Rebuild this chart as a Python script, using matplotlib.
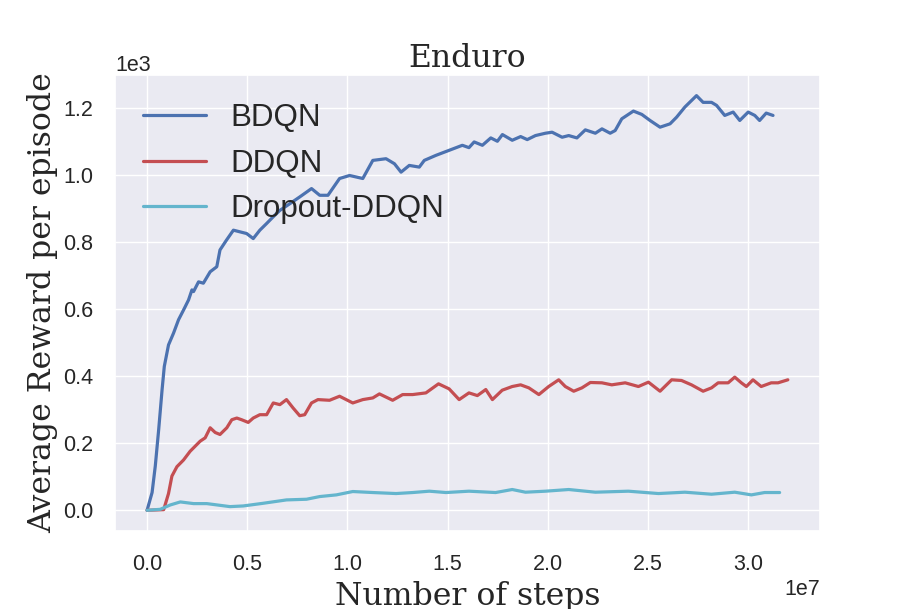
import matplotlib
matplotlib.use("Agg")
import matplotlib.pyplot as plt
import seaborn as sns
import numpy as np

# readings: x in units of 1e7 steps, y in units of 1e3 reward
bdqn_x = [0.0, 0.025, 0.041, 0.058, 0.075, 0.086, 0.107, 0.132, 0.157, 0.182, 0.207, 0.224, 0.232,
          0.257, 0.281, 0.315, 0.348, 0.364, 0.396, 0.431, 0.464, 0.497, 0.530, 0.563, 0.597, 0.630,
          0.663, 0.713, 0.762, 0.821, 0.862, 0.903, 0.961, 1.011, 1.077, 1.127, 1.193, 1.235, 1.268,
          1.309, 1.359, 1.384, 1.442, 1.508, 1.574, 1.607, 1.633, 1.674, 1.716, 1.749, 1.774, 1.823,
          1.865, 1.898, 1.939, 1.989, 2.022, 2.072, 2.105, 2.146, 2.188, 2.238, 2.271, 2.312, 2.337,
          2.370, 2.428, 2.470, 2.511, 2.561, 2.611, 2.644, 2.685, 2.743, 2.776, 2.818, 2.843, 2.884,
          2.926, 2.959, 3.001, 3.034, 3.058, 3.091, 3.125]
bdqn_y = [0.0, 0.053, 0.132, 0.241, 0.360, 0.429, 0.493, 0.528, 0.568, 0.597, 0.627, 0.657, 0.652,
          0.681, 0.677, 0.711, 0.726, 0.776, 0.805, 0.835, 0.830, 0.825, 0.810, 0.835, 0.855, 0.875,
          0.894, 0.914, 0.934, 0.959, 0.939, 0.939, 0.989, 0.998, 0.989, 1.043, 1.048, 1.033, 1.008,
          1.028, 1.023, 1.043, 1.058, 1.073, 1.088, 1.081, 1.098, 1.088, 1.110, 1.100, 1.120, 1.103,
          1.114, 1.105, 1.117, 1.124, 1.127, 1.112, 1.117, 1.110, 1.134, 1.124, 1.137, 1.124, 1.132,
          1.167, 1.190, 1.180, 1.162, 1.142, 1.152, 1.172, 1.202, 1.236, 1.216, 1.216, 1.207, 1.177,
          1.187, 1.162, 1.187, 1.177, 1.162, 1.184, 1.177]

ddqn_x = [0.0, 0.083, 0.107, 0.124, 0.149, 0.182, 0.215, 0.240, 0.265, 0.290, 0.315, 0.340, 0.364,
          0.398, 0.423, 0.448, 0.472, 0.505, 0.530, 0.563, 0.597, 0.630, 0.663, 0.696, 0.729, 0.762,
          0.787, 0.821, 0.853, 0.911, 0.961, 1.027, 1.077, 1.127, 1.160, 1.226, 1.276, 1.326, 1.392,
          1.455, 1.508, 1.558, 1.607, 1.649, 1.691, 1.724, 1.773, 1.823, 1.865, 1.906, 1.956, 2.005,
          2.055, 2.088, 2.130, 2.171, 2.213, 2.271, 2.320, 2.387, 2.453, 2.503, 2.561, 2.619, 2.668,
          2.718, 2.776, 2.818, 2.851, 2.901, 2.934, 2.967, 2.992, 3.025, 3.066, 3.116, 3.150, 3.199]
ddqn_y = [0.0, 0.002, 0.050, 0.102, 0.130, 0.150, 0.176, 0.191, 0.206, 0.216, 0.246, 0.232, 0.226,
          0.246, 0.270, 0.275, 0.270, 0.262, 0.275, 0.285, 0.285, 0.320, 0.315, 0.330, 0.305, 0.282,
          0.285, 0.320, 0.330, 0.328, 0.340, 0.320, 0.330, 0.335, 0.347, 0.328, 0.345, 0.345, 0.350,
          0.377, 0.362, 0.330, 0.350, 0.342, 0.360, 0.330, 0.358, 0.369, 0.374, 0.365, 0.345, 0.369,
          0.389, 0.369, 0.355, 0.365, 0.381, 0.380, 0.374, 0.380, 0.369, 0.382, 0.355, 0.389, 0.387,
          0.374, 0.355, 0.365, 0.380, 0.380, 0.397, 0.380, 0.369, 0.389, 0.369, 0.380, 0.380, 0.389]

drop_x = [0.0, 0.066, 0.116, 0.166, 0.232, 0.298, 0.414, 0.480, 0.580, 0.696, 0.796, 0.862, 0.945,
          1.027, 1.127, 1.243, 1.326, 1.409, 1.492, 1.607, 1.740, 1.823, 1.889, 1.989, 2.105, 2.238,
          2.403, 2.553, 2.685, 2.818, 2.934, 3.017, 3.083, 3.158]
drop_y = [0.0, 0.003, 0.016, 0.025, 0.020, 0.020, 0.011, 0.013, 0.021, 0.031, 0.033, 0.041, 0.046,
          0.056, 0.053, 0.050, 0.053, 0.057, 0.053, 0.057, 0.053, 0.062, 0.054, 0.057, 0.062, 0.054,
          0.057, 0.050, 0.054, 0.048, 0.054, 0.046, 0.053, 0.053]

labels = ['BDQN', 'DDQN', 'Dropout-DDQN']

sns.set(color_codes=True)
plt.rcParams['font.family'] = ['Liberation Sans', 'DejaVu Sans']

fig = plt.figure(figsize=(9.13, 6.09), dpi=100)
ax = fig.add_axes([0.126, 0.128, 0.772, 0.749])

series = [(bdqn_x, bdqn_y, 'b'), (ddqn_x, ddqn_y, 'r'), (drop_x, drop_y, 'c')]
for (xs, ys, c), lab in zip(series, labels):
    ax.plot(np.array(xs) * 1e7, np.array(ys) * 1e3, color=c, linewidth=2.3, label=lab)

ax.ticklabel_format(axis='both', style='sci', scilimits=(0, 0))
ax.tick_params(axis='x', labelsize=15.5, length=0, pad=16.5)
ax.tick_params(axis='y', labelsize=15.5, length=0, pad=15.5)
ax.xaxis.get_offset_text().set_fontsize(15.5)
ax.yaxis.get_offset_text().set_fontsize(15.5)

serif = {'family': 'DejaVu Serif', 'size': 22.7}
ax.set_title('Enduro', fontdict=serif)
ax.set_xlabel('Number of steps', fontdict=serif)
ax.set_ylabel('Average Reward per episode', fontdict=serif)

ax.legend(loc='upper left', frameon=False, fontsize=22.5)

fig.savefig('out.png', dpi=100)
